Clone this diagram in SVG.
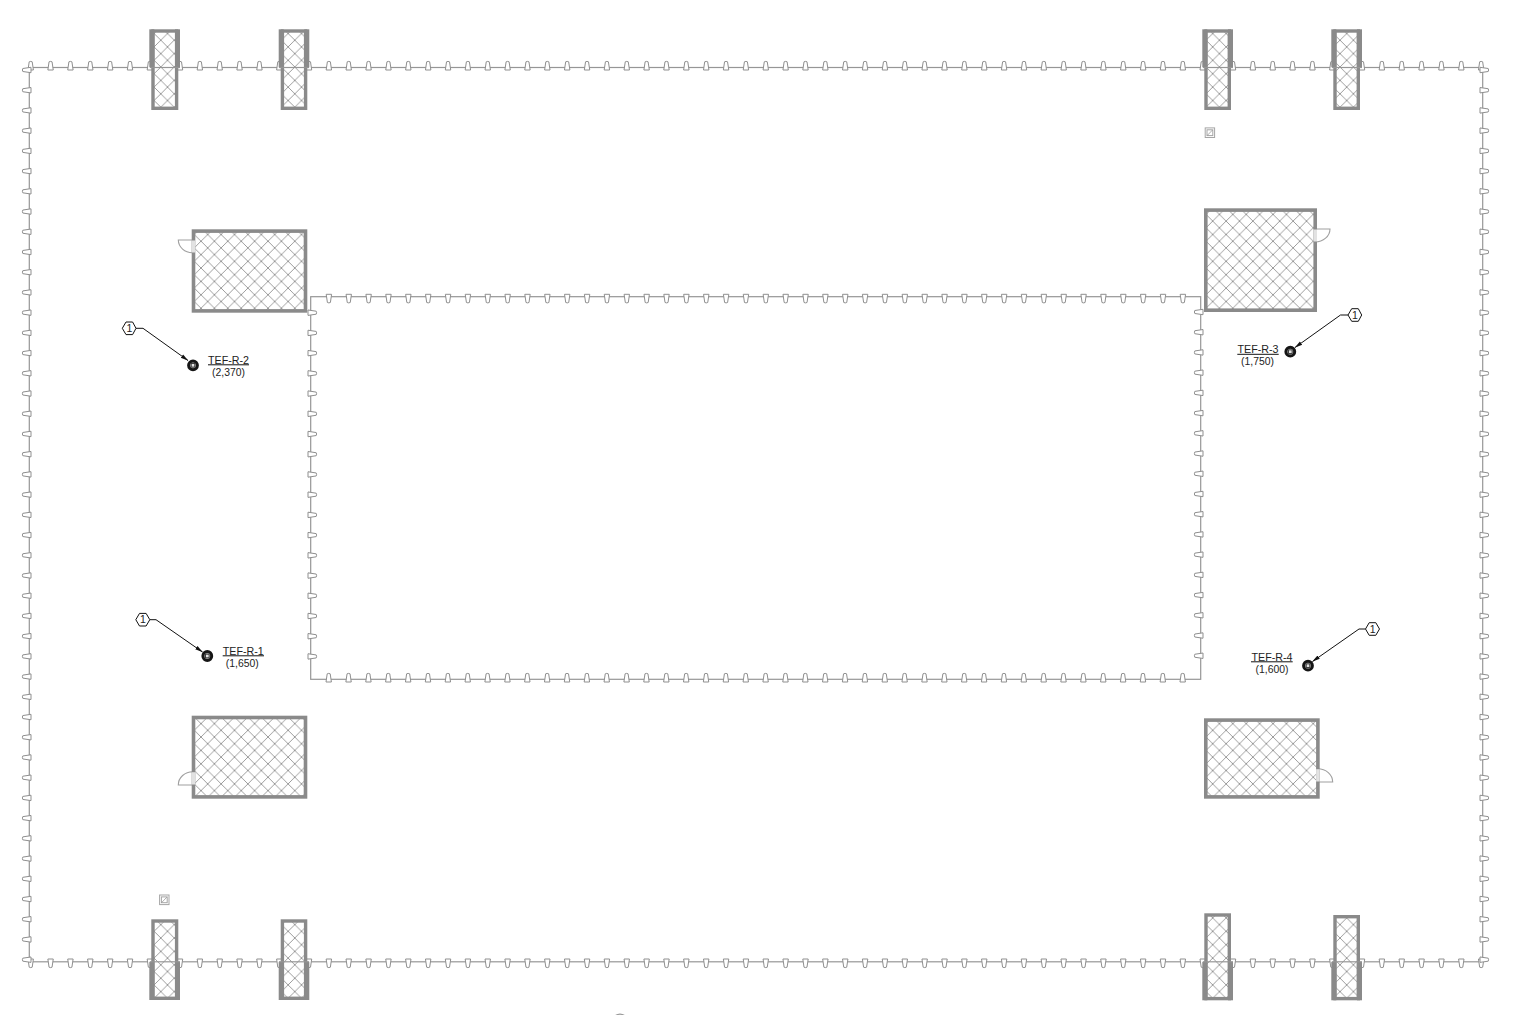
<svg xmlns="http://www.w3.org/2000/svg" xmlns:xlink="http://www.w3.org/1999/xlink" width="1533" height="1015" viewBox="0 0 1533 1015">
<style>
.wall{fill:none;stroke:#969696;stroke-width:1.2}
.tick{fill:#fff;stroke:#8f8f8f;stroke-width:1}
.solid{fill:url(#hc);stroke:#8a8a8a;stroke-width:3.6}
.colb{fill:url(#hc);stroke:#8a8a8a;stroke-width:3.4}
.cap{fill:#8a8a8a}
.door{fill:#fff;stroke:#a0a0a0;stroke-width:1.1}
.gap{fill:#e2e2e2}
.lead{fill:none;stroke:#111;stroke-width:1}
.hex{fill:#fff;stroke:#111;stroke-width:1}
.ring{fill:#aaa;stroke:#151515;stroke-width:3}
.in{fill:#e4e4e4;stroke:#333;stroke-width:.9}
.vav{fill:#fff;stroke:#a5a5a5;stroke-width:1}
text{font-family:"Liberation Sans",Arial,sans-serif;fill:#222;text-anchor:middle;font-size:10.5px}
</style>
<defs>
<pattern id="hc" width="13.4" height="13.4" patternUnits="userSpaceOnUse"><rect width="13.4" height="13.4" fill="#fff"/><path d="M0 0L13.4 13.4M13.4 0L0 13.4" stroke="#8c8c8c" stroke-width=".85"/></pattern>
<marker id="ah" markerUnits="userSpaceOnUse" markerWidth="8" markerHeight="6" refX="7.5" refY="3" orient="auto"><path d="M0 1L8 3L0 5Z" fill="#111"/></marker>
<path id="t" class="tick" d="M-2.7 0L-1.5-8.2Q0-9 1.5-8.2L2.7 0Z"/>
<g id="h2"><use href="#t"/><use href="#t" x="19.86"/></g>
<g id="h6"><use href="#h2"/><use href="#h2" x="39.72"/><use href="#h2" x="79.44"/></g>
<g id="h10"><use href="#h6"/><use href="#h2" x="119.16"/><use href="#h2" x="158.88"/></g>
<g id="h44"><use href="#h10"/><use href="#h10" x="198.6"/><use href="#h10" x="397.2"/><use href="#h10" x="595.8"/><use href="#h2" x="794.4"/><use href="#h2" x="834.12"/></g>
<g id="h46"><use href="#h44"/><use href="#h2" x="873.84"/></g>
<g id="h7"><use href="#h6"/><use href="#t" x="119.16"/></g>
<g id="hrow">
<use href="#h7" x="30.7"/><use href="#h6" x="180"/><use href="#h46" x="309"/><use href="#h6" x="1233"/><use href="#h7" x="1362"/>
</g>
<path id="s" class="tick" d="M0-2.7L-8.2-1.5Q-9 0-8.2 1.5L0 2.7Z"/>
<g id="v2"><use href="#s"/><use href="#s" y="20.22"/></g>
<g id="v6"><use href="#v2"/><use href="#v2" y="40.44"/><use href="#v2" y="80.88"/></g>
<g id="v18"><use href="#v6"/><use href="#v6" y="121.32"/><use href="#v6" y="242.64"/></g>
<g id="v45"><use href="#v18"/><use href="#v18" y="363.96"/><use href="#v6" y="727.92"/><use href="#v2" y="849.24"/><use href="#s" y="889.68"/></g>
</defs>

<g id="outer-wall">
<rect class="wall" x="29.3" y="67.5" width="1453.4" height="894.3"/>
<use href="#hrow" y="70"/>
<use href="#hrow" transform="translate(0 959) scale(1 -1)"/>
<use href="#v45" transform="translate(31 70)"/>
<use href="#v45" transform="translate(1480 70) scale(-1 1)"/>
</g>
<g id="inner-wall">
<rect class="wall" x="310.7" y="296.7" width="890" height="382.6"/>
<use href="#h44" transform="translate(328.9 294.3) scale(1 -1)"/>
<use href="#h44" transform="translate(328.7 682)"/>
<use href="#v18" transform="translate(308 312.7) scale(-1 1)"/>
<use href="#v18" transform="translate(1203 312)"/>
</g>

<g id="column-t1"><rect class="colb" x="153" y="31" width="23.6" height="77.3"/><rect class="cap" x="149.3" y="29.3" width="5" height="38"/><rect class="cap" x="175" y="29.3" width="5" height="38"/><path class="wall" d="M150 67.5H180"/></g>
<g id="column-t2"><rect class="colb" x="282.4" y="31" width="23.2" height="77.3"/><rect class="cap" x="278.7" y="29.3" width="5" height="38"/><rect class="cap" x="304.3" y="29.3" width="5" height="38"/><path class="wall" d="M279 67.5H309"/></g>
<g id="column-t3"><rect class="colb" x="1206" y="31" width="23.3" height="77.3"/><rect class="cap" x="1202.3" y="29.3" width="5" height="38"/><rect class="cap" x="1228" y="29.3" width="5" height="38"/><path class="wall" d="M1203 67.5H1233"/></g>
<g id="column-t4"><rect class="colb" x="1335" y="31" width="23.3" height="77.3"/><rect class="cap" x="1331.3" y="29.3" width="5" height="38"/><rect class="cap" x="1357" y="29.3" width="5" height="38"/><path class="wall" d="M1332 67.5H1362"/></g>

<g id="column-b1"><rect class="colb" x="153" y="921" width="23.6" height="77.3"/><rect class="cap" x="149.3" y="961.8" width="5" height="38.2"/><rect class="cap" x="175" y="961.8" width="5" height="38.2"/><path class="wall" d="M150 961.8H180"/></g>
<g id="column-b2"><rect class="colb" x="282.4" y="921" width="23.2" height="77.3"/><rect class="cap" x="278.7" y="961.8" width="5" height="38.2"/><rect class="cap" x="304.3" y="961.8" width="5" height="38.2"/><path class="wall" d="M279 961.8H309"/></g>
<g id="column-b3"><rect class="colb" x="1206" y="915" width="23.3" height="83.6"/><rect class="cap" x="1202.3" y="961.8" width="5" height="38.5"/><rect class="cap" x="1228" y="961.8" width="5" height="38.5"/><path class="wall" d="M1203 961.8H1233"/></g>
<g id="column-b4"><rect class="colb" x="1335" y="916.7" width="23.3" height="81.9"/><rect class="cap" x="1331.3" y="961.8" width="5" height="38.5"/><rect class="cap" x="1357" y="961.8" width="5" height="38.5"/><path class="wall" d="M1332 961.8H1362"/></g>

<g id="room-tl"><path class="door" d="M192.5 240H178.3A14 13 0 0 0 192.5 252.7Z"/><rect class="solid" x="193.5" y="231.1" width="112" height="79.8"/><rect class="gap" x="191.7" y="240.5" width="3.6" height="12"/></g>
<g id="room-tr"><path class="door" d="M1315 229H1330A15 13 0 0 1 1315 242Z"/><rect class="solid" x="1205.8" y="210.1" width="109.4" height="100.1"/><rect class="gap" x="1313.4" y="229.5" width="3.6" height="12"/></g>
<g id="room-bl"><path class="door" d="M193 785H178.3A14.5 13.3 0 0 1 193 771.7Z"/><rect class="solid" x="193.5" y="717.5" width="112" height="79.4"/><rect class="gap" x="191.7" y="772.2" width="3.6" height="12.3"/></g>
<g id="room-br"><path class="door" d="M1317.7 782H1332.7A15 13.3 0 0 0 1317.7 768.7Z"/><rect class="solid" x="1205.8" y="720.1" width="112.1" height="76.8"/><rect class="gap" x="1316.1" y="769.2" width="3.6" height="12.3"/></g>

<g id="damper-1"><rect class="vav" x="1205.2" y="127.9" width="9.4" height="9.6"/><rect class="vav" x="1207" y="129.8" width="5.8" height="5.8"/><path class="lead" style="stroke:#777;stroke-width:.6" d="M1207.5 135.2L1212.3 130.2"/></g>
<g id="damper-2"><rect class="vav" x="159.6" y="895" width="9.4" height="9.6"/><rect class="vav" x="161.4" y="896.9" width="5.8" height="5.8"/><path class="lead" style="stroke:#777;stroke-width:.6" d="M161.9 902.3L166.7 897.3"/></g>
<path id="edge-arc" class="wall" d="M615.5 1015.5Q620 1012.6 624.5 1015.5"/>

<g id="connectors">
<path class="lead" marker-end="url(#ah)" d="M136 328.3H143L188 360.5"/>
<path class="lead" marker-end="url(#ah)" d="M1348 315H1340.5L1295 347.5"/>
<path class="lead" marker-end="url(#ah)" d="M149.8 619.7H156L202.5 652"/>
<path class="lead" marker-end="url(#ah)" d="M1365.5 629H1359L1312.5 661.5"/>
</g>

<g id="fan-tef-r-2"><circle class="ring" cx="193" cy="365.3" r="4.4"/><rect class="in" x="191.2" y="363.5" width="3.6" height="3.6"/>
<text x="228.5" y="363.5" textLength="41" lengthAdjust="spacingAndGlyphs">TEF-R-2</text><path class="lead" d="M208 364.8H249"/><text x="228.5" y="376" textLength="33" lengthAdjust="spacingAndGlyphs">(2,370)</text></g>
<g id="fan-tef-r-3"><circle class="ring" cx="1290.3" cy="351.7" r="4.4"/><rect class="in" x="1288.5" y="349.9" width="3.6" height="3.6"/>
<text x="1258" y="353" textLength="41" lengthAdjust="spacingAndGlyphs">TEF-R-3</text><path class="lead" d="M1237.3 354.3H1278.7"/><text x="1257.5" y="365.3" textLength="33" lengthAdjust="spacingAndGlyphs">(1,750)</text></g>
<g id="fan-tef-r-1"><circle class="ring" cx="207.3" cy="656" r="4.4"/><rect class="in" x="205.5" y="654.2" width="3.6" height="3.6"/>
<text x="243.3" y="654.5" textLength="41" lengthAdjust="spacingAndGlyphs">TEF-R-1</text><path class="lead" d="M222.7 655.8H264"/><text x="242.3" y="667" textLength="33" lengthAdjust="spacingAndGlyphs">(1,650)</text></g>
<g id="fan-tef-r-4"><circle class="ring" cx="1308" cy="665.7" r="4.4"/><rect class="in" x="1306.2" y="663.9" width="3.6" height="3.6"/>
<text x="1272" y="660.5" textLength="41" lengthAdjust="spacingAndGlyphs">TEF-R-4</text><path class="lead" d="M1251 661.8H1292.7"/><text x="1272" y="673" textLength="33" lengthAdjust="spacingAndGlyphs">(1,600)</text></g>

<g id="tag-2"><path class="hex" d="M122.3 328.3L126 322H132.6L136 328.3L132.6 334.6H126Z"/><text x="129.3" y="332">1</text></g>
<g id="tag-3"><path class="hex" d="M1348 315L1351.7 308.7H1358.3L1361.7 315L1358.3 321.3H1351.7Z"/><text x="1355" y="318.7">1</text></g>
<g id="tag-1"><path class="hex" d="M135.8 619.7L139.5 613.4H146.1L149.8 619.7L146.1 626H139.5Z"/><text x="142.8" y="623.4">1</text></g>
<g id="tag-4"><path class="hex" d="M1365.5 629L1369.2 622.7H1375.8L1379.5 629L1375.8 635.3H1369.2Z"/><text x="1372.6" y="632.7">1</text></g>
</svg>
